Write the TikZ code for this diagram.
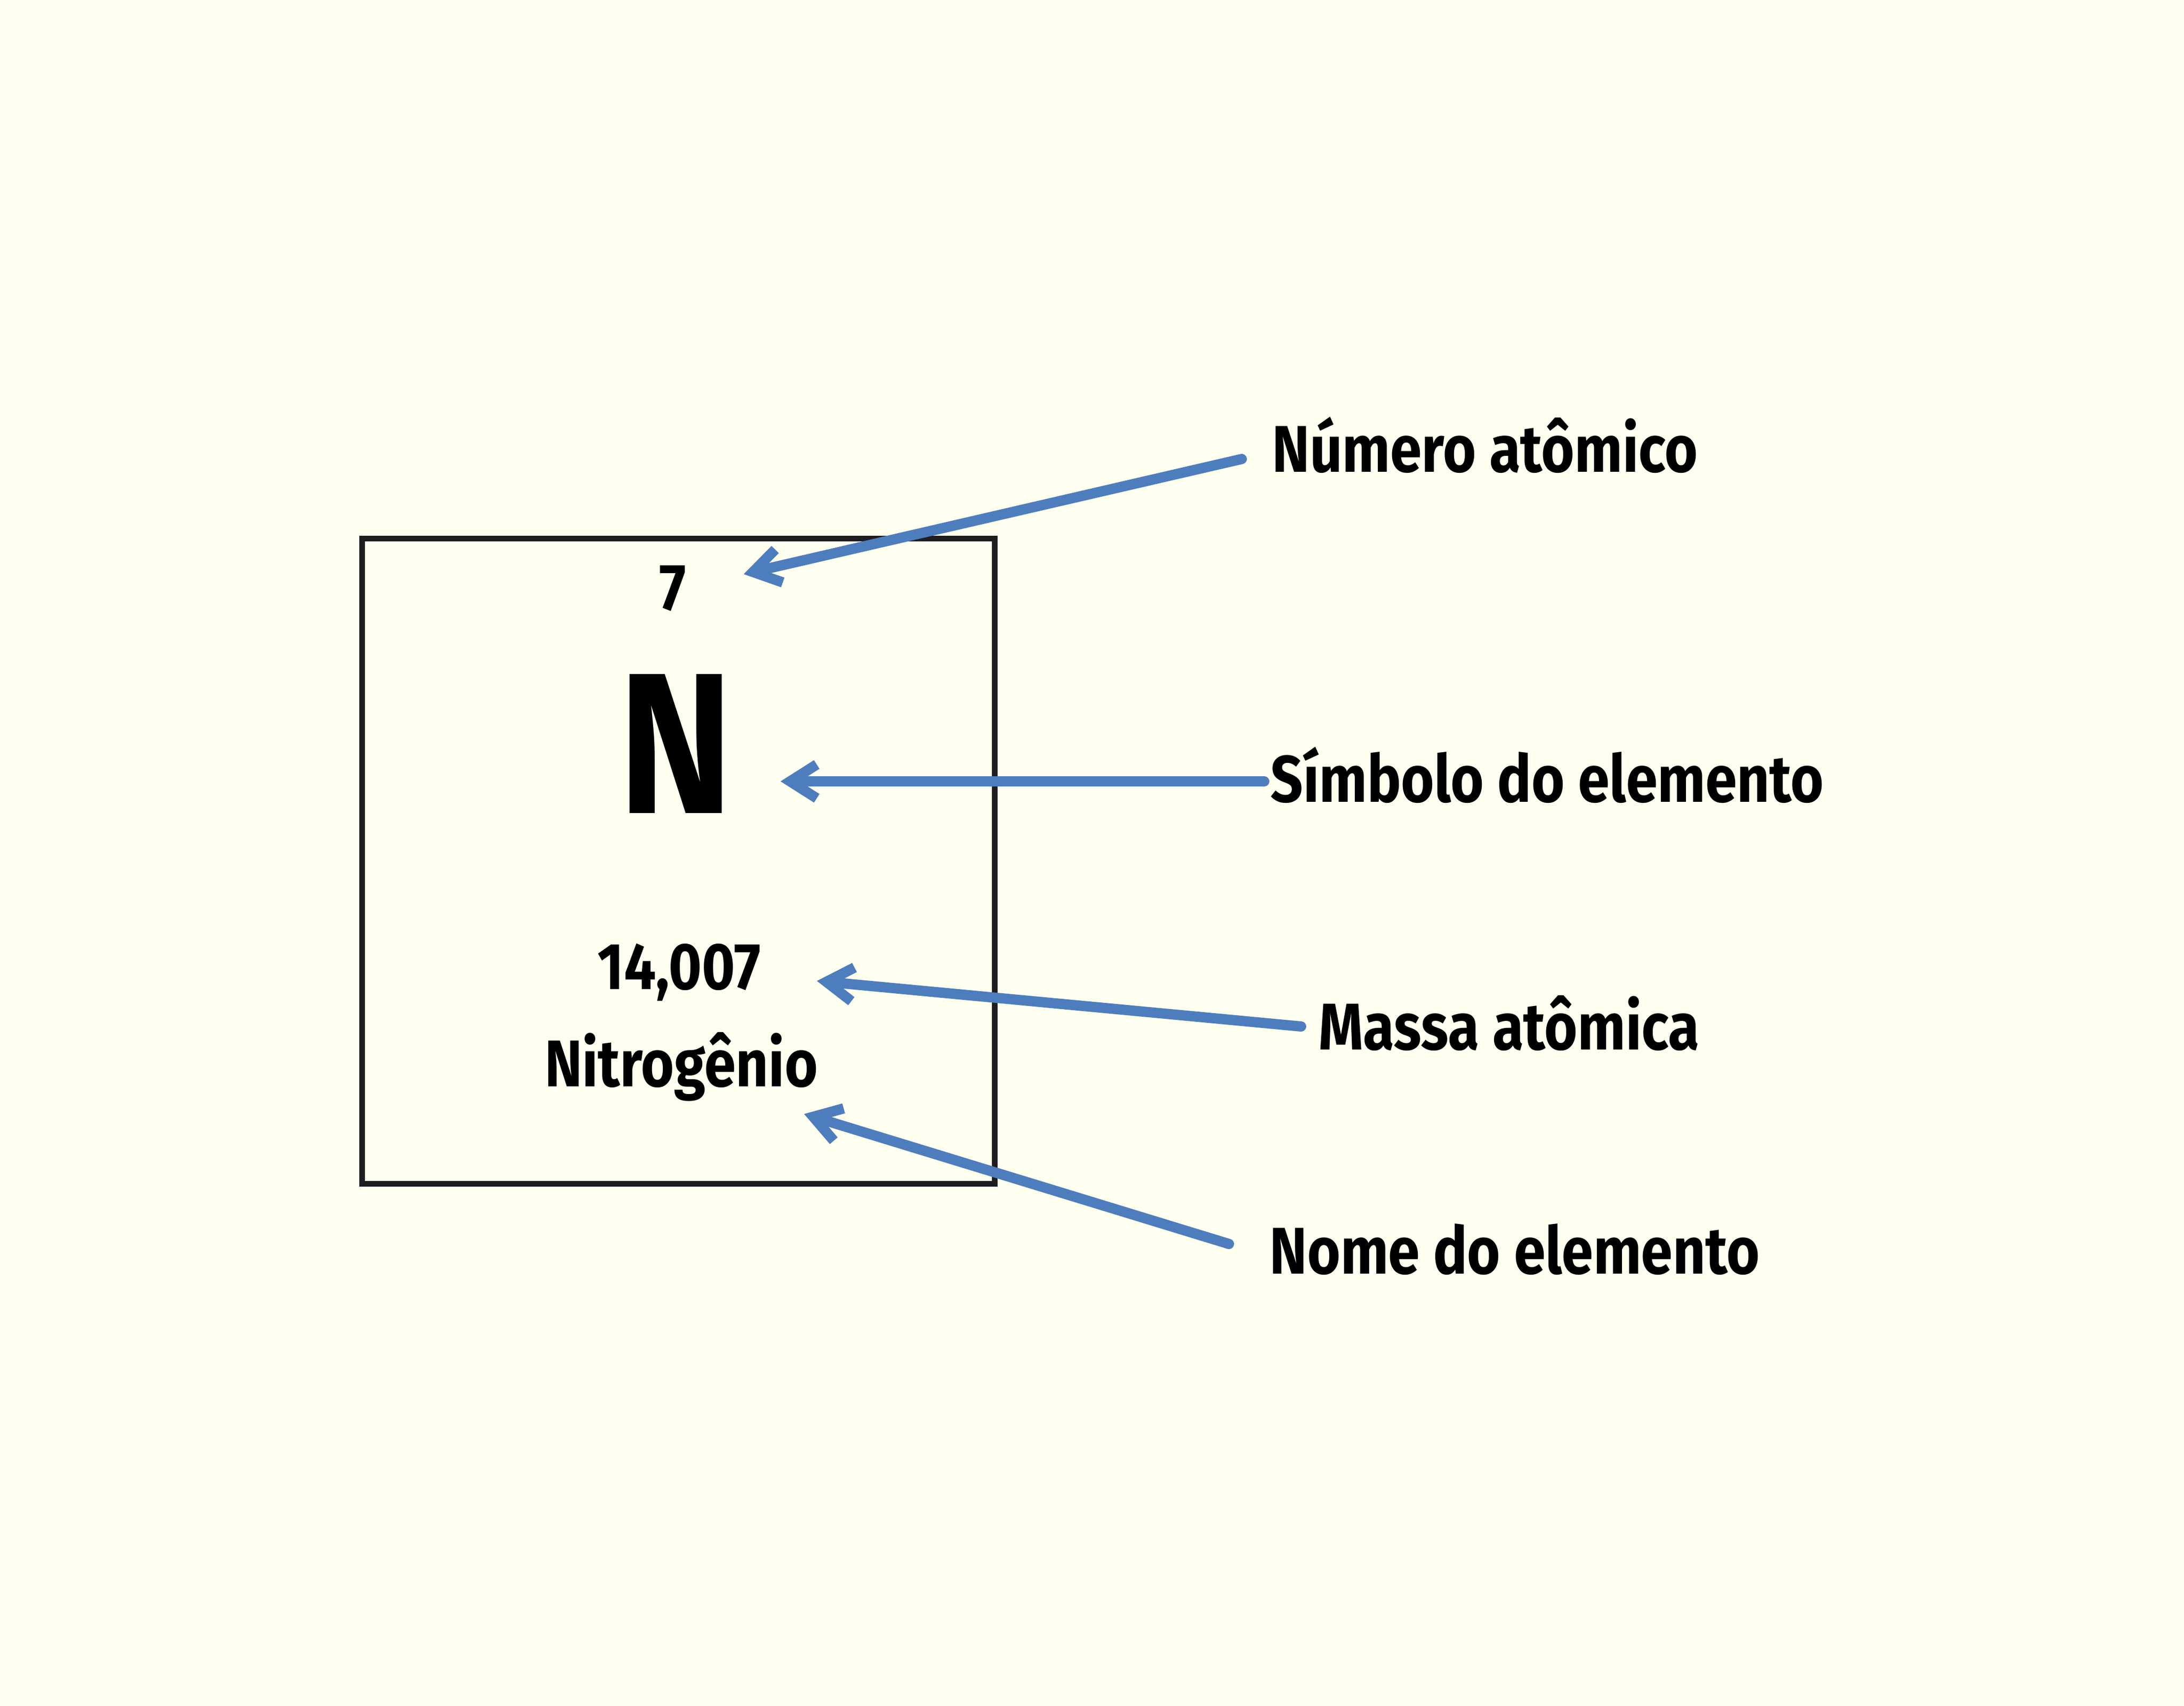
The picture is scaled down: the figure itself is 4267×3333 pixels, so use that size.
\documentclass[tikz,border=0pt]{standalone}
\usepackage{fontspec}
\setmainfont{Fira Sans}[FakeStretch=0.86]
\usetikzlibrary{arrows.meta}
\definecolor{bgcream}{HTML}{FEFFEE}
\definecolor{arrowblue}{HTML}{4E7DBE}
\definecolor{boxdark}{HTML}{1E1E20}
\tikzset{
  lbl/.style={anchor=base west, inner sep=0pt, font=\bfseries\fontsize{36.7}{40}\selectfont},
  inlbl/.style={anchor=base, inner sep=0pt, font=\bfseries\fontsize{36.7}{40}\selectfont},
  bigsym/.style={anchor=base, inner sep=0pt, font=\bfseries\fontsize{111.5}{120}\selectfont},
  pointer/.style={draw=arrowblue, line width=0.2cm, line cap=round,
    -{Straight Barb[length=0.52cm, width=0.66cm, line cap=butt]}},
  elembox/.style={draw=boxdark, line width=0.11cm}
}
\begin{document}
\begin{tikzpicture}[x=0.01cm, y=-0.01cm]
\fill[bgcream] (0,0) rectangle (4267,3333);
\useasboundingbox (0,0) rectangle (4267,3333);
\draw[elembox] (707,1052) rectangle (1943,2313);
\node[inlbl] (num) at (1314,1192) {7};
\node[bigsym] (sym) at (1320,1589) {N};
\node[inlbl] (mass) at (1327,1933) {14,007};
\node[inlbl] (name) at (1331,2123) {Nitrogênio};
\node[lbl] (lnum) at (2485,922) {Número atômico};
\node[lbl] (lsym) at (2482,1567) {Símbolo do elemento};
\node[lbl] (lmass) at (2576,2051) {Massa atômica};
\node[lbl] (lname) at (2480,2489) {Nome do elemento};
\coordinate (t1) at (2426,897);
\coordinate (h1) at (1453,1122);
\coordinate (t2) at (2470,1527);
\coordinate (h2) at (1525,1527);
\coordinate (t3) at (2542,2006);
\coordinate (h3) at (1596,1917);
\coordinate (t4) at (2401,2431);
\coordinate (h4) at (1571,2177);
\draw[pointer] (t1) -- (h1);
\draw[pointer] (t2) -- (h2);
\draw[pointer] (t3) -- (h3);
\draw[pointer] (t4) -- (h4);
\end{tikzpicture}
\end{document}
